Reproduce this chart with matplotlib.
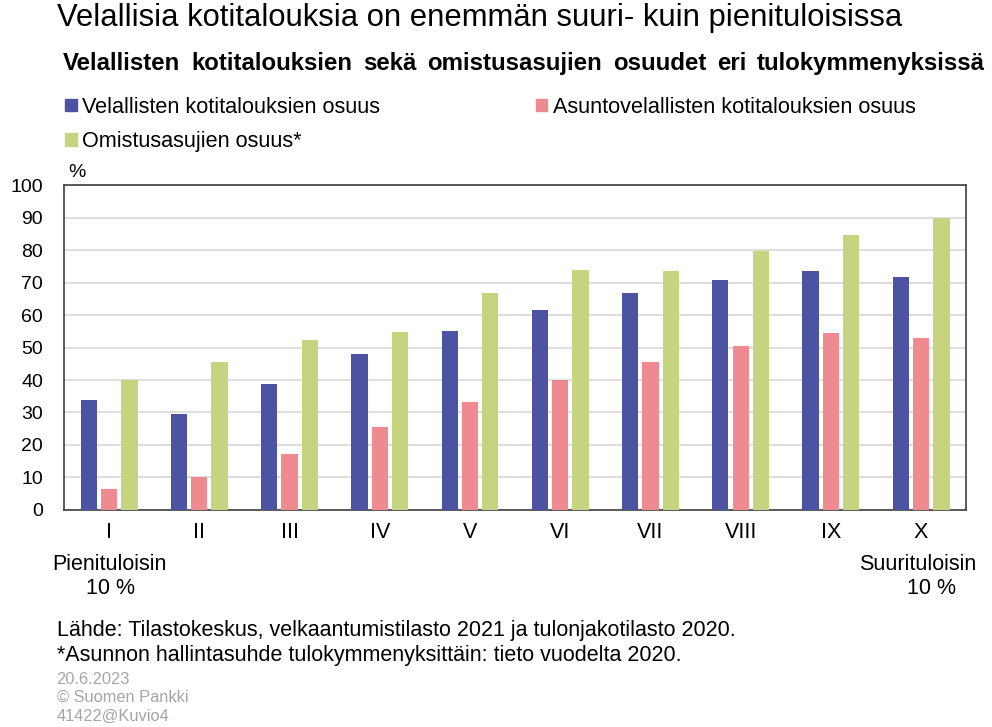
import matplotlib.pyplot as plt
import numpy as np
from matplotlib.patches import Patch

plt.rcParams['font.family'] = ['Liberation Sans', 'DejaVu Sans']

# Tulokymmenykset
kymmenykset = ['I', 'II', 'III', 'IV', 'V', 'VI', 'VII', 'VIII', 'IX', 'X']
velalliset = [34.0, 29.4, 38.9, 48.0, 55.1, 61.5, 66.8, 70.7, 73.4, 71.8]
asuntovelalliset = [6.4, 10.0, 17.1, 25.6, 33.1, 40.0, 45.5, 50.6, 54.4, 53.0]
omistusasujat = [40.0, 45.6, 52.3, 54.7, 66.8, 73.9, 73.4, 79.8, 84.7, 89.9]

sarjat = ['Velallisten kotitalouksien osuus',
          'Asuntovelallisten kotitalouksien osuus',
          'Omistusasujien osuus*']
varit = ['#4b53a2', '#ef8a90', '#c6d37f']
narrow = ['Liberation Sans Narrow', 'Liberation Sans']

fig = plt.figure(figsize=(9.92, 7.27), dpi=100)
ax = fig.add_axes([0.0645, 0.2985, 0.9095, 0.447])

x = np.arange(len(kymmenykset))
w = 0.18
for i, (vals, c) in enumerate(zip([velalliset, asuntovelalliset, omistusasujat], varit)):
    ax.bar(x + (i - 1) * 0.225, vals, width=w, color=c, zorder=3)

ax.set_xlim(-0.5, 9.5)
ax.set_ylim(0, 100)
ax.set_yticks(range(0, 101, 10))
ax.yaxis.grid(True, color='#d9d9d9', linewidth=1.2, zorder=0)
ax.tick_params(axis='y', length=0, labelsize=14, pad=15)
ax.tick_params(axis='x', length=0, pad=9)
ax.set_xticks(x)
ax.set_xticklabels(kymmenykset, fontsize=15.5, family=narrow)
for s in ax.spines.values():
    s.set_color('#404040')
    s.set_linewidth(1.2)

fig.text(0.069, 0.756, '%', fontsize=14)

fig.text(0.057, 0.975, 'Velallisia kotitalouksia on enemmän suuri- kuin pienituloisissa',
         fontsize=22.3, va='center')

# alaotsikko tasattuna koko leveydelle
sanat = 'Velallisten kotitalouksien sekä omistusasujien osuudet eri tulokymmenyksissä'.split()
r = fig.canvas.get_renderer()
tekstit = [fig.text(0, 0.913, s, fontsize=17.3, fontweight='bold', va='center') for s in sanat]
lev = [t.get_window_extent(r).width for t in tekstit]
x0, x1 = 63, 985
vali = (x1 - x0 - sum(lev)) / (len(sanat) - 1)
px = x0
for t, l in zip(tekstit, lev):
    t.set_x(px / 992)
    px += l + vali

kahvat = [Patch(color=varit[0]), Patch(color=varit[2]), Patch(color=varit[1])]
nimet = [sarjat[0], sarjat[2], sarjat[1]]
fig.legend(kahvat, nimet, loc='upper left', bbox_to_anchor=(0.066, 0.867), ncol=2,
           frameon=False, fontsize=15.6, handlelength=0.52, handleheight=0.52,
           handletextpad=0.25, columnspacing=7.2, labelspacing=0.62, borderaxespad=0,
           borderpad=0)

fig.text(0.110, 0.224, 'Pienituloisin', fontsize=15.5, ha='center', va='center', family=narrow)
fig.text(0.111, 0.190, '10 %', fontsize=15.5, ha='center', va='center', family=narrow)
fig.text(0.925, 0.224, 'Suurituloisin', fontsize=15.5, ha='center', va='center', family=narrow)
fig.text(0.939, 0.190, '10 %', fontsize=15.5, ha='center', va='center', family=narrow)

fig.text(0.057, 0.133, 'Lähde: Tilastokeskus, velkaantumistilasto 2021 ja tulonjakotilasto 2020.',
         fontsize=15.5, va='center')
fig.text(0.057, 0.099, '*Asunnon hallintasuhde tulokymmenyksittäin: tieto vuodelta 2020.',
         fontsize=15.5, va='center')
fig.text(0.057, 0.066, '20.6.2023', fontsize=11.8, color='#a6a6a6', va='center')
fig.text(0.057, 0.041, '© Suomen Pankki', fontsize=11.8, color='#a6a6a6', va='center')
fig.text(0.057, 0.015, '41422@Kuvio4', fontsize=11.8, color='#a6a6a6', va='center')

fig.savefig('out.png', dpi=100)
